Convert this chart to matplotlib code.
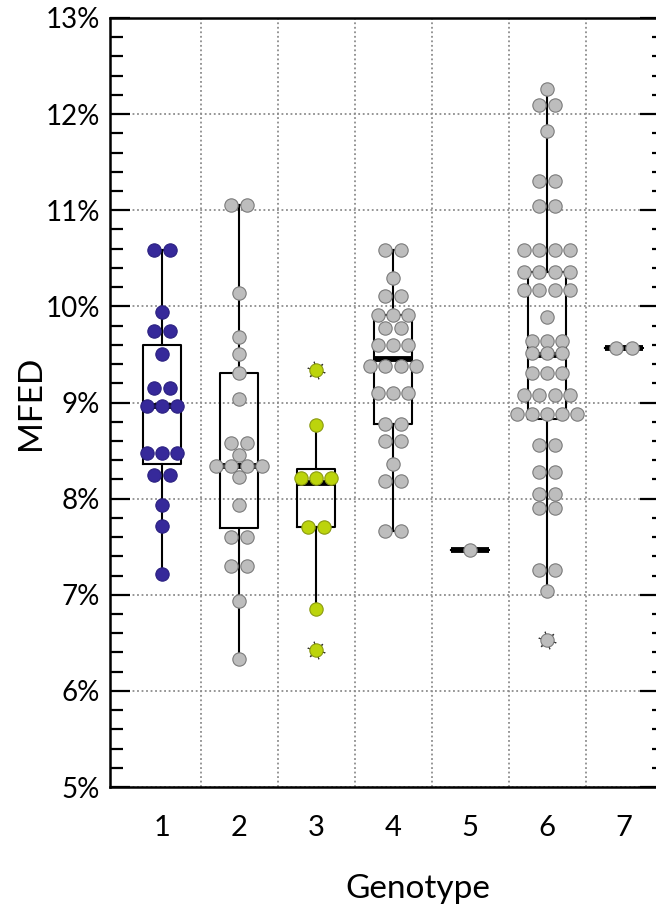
import numpy as np
import matplotlib
matplotlib.use("Agg")
import matplotlib.pyplot as plt
from matplotlib.ticker import MultipleLocator, PercentFormatter, NullFormatter

# MFED values (%) per genotype
genotypes = [1, 2, 3, 4, 5, 6, 7]

g1 = [10.59, 10.59, 9.94, 9.74, 9.74, 9.50, 9.15, 9.15, 8.96, 8.96, 8.96,
      8.47, 8.47, 8.47, 8.25, 8.25, 7.93, 7.72, 7.22]
g2 = [11.05, 11.05, 10.14, 9.68, 9.50, 9.31, 9.04, 8.58, 8.58, 8.45,
      8.34, 8.34, 8.34, 8.34, 8.22, 7.93, 7.60, 7.60, 7.30, 7.30, 6.94, 6.33]
g3 = [9.34, 8.77, 8.21, 8.21, 8.21, 7.71, 7.71, 6.85, 6.43]
g4 = [10.59, 10.59, 10.29, 10.11, 10.11, 9.91, 9.91, 9.91, 9.77, 9.77,
      9.60, 9.60, 9.60, 9.38, 9.38, 9.38, 9.38, 9.10, 9.10, 9.10,
      8.78, 8.78, 8.60, 8.60, 8.36, 8.18, 8.18, 7.66, 7.66]
g5 = [7.47]
g6 = [12.26, 12.09, 12.09, 11.82, 11.30, 11.30, 11.04, 11.04,
      10.59, 10.59, 10.59, 10.59, 10.36, 10.36, 10.36, 10.36,
      10.17, 10.17, 10.17, 10.17, 9.89, 9.64, 9.64, 9.64, 9.52, 9.52, 9.52,
      9.31, 9.31, 9.31, 9.08, 9.08, 9.08, 9.08, 8.88, 8.88, 8.88, 8.88, 8.88,
      8.56, 8.56, 8.28, 8.28, 8.05, 8.05, 7.90, 7.90, 7.26, 7.26, 7.04, 6.53]
g7 = [9.57, 9.57]

# outliers (drawn with spiked markers)
outliers = {3: [9.34, 6.43], 6: [6.53]}

# box statistics
box_q1 = [8.36, 7.69, 7.71, 8.78, 7.47, 8.83, 9.57]
box_med = [8.96, 8.34, 8.16, 9.45, 7.47, 9.49, 9.57]
box_q3 = [9.60, 9.31, 8.31, 9.91, 7.47, 10.36, 9.57]
whisk_lo = [7.22, 6.33, 6.85, 7.66, 7.47, 7.04, 9.57]
whisk_hi = [10.59, 11.05, 8.77, 10.59, 7.47, 12.26, 9.57]

# styles
BLUE = "#36299a"
GREEN = "#bcd40c"
GRAY = "#bdbdbd"
point_colors = [BLUE, GRAY, GREEN, GRAY, GRAY, GRAY, GRAY]
edge_colors = ["#2a2080", "#7a7a7a", "#8a9a10", "#7a7a7a", "#7a7a7a", "#7a7a7a", "#7a7a7a"]
FONT = ["Lato", "DejaVu Sans"]
ROW_STEP = 0.195  # horizontal spacing between dots sharing one value


def swarm_offsets(values):
    """Spread equal values side by side, centred on the category."""
    xs = np.zeros(len(values))
    vals = np.array(values)
    for v in np.unique(vals):
        idx = np.where(vals == v)[0]
        n = len(idx)
        xs[idx] = (np.arange(n) - (n - 1) / 2) * ROW_STEP
    return xs


def main():
    plt.rcParams["font.family"] = FONT
    fig = plt.figure(figsize=(6.56, 9.06), dpi=100)
    ax_rect = [110 / 656, 119 / 906, 1 - 110 / 656, 769 / 906]
    ax = fig.add_axes(ax_rect)

    data = [g1, g2, g3, g4, g5, g6, g7]

    stats = []
    for i, g in enumerate(genotypes):
        stats.append({
            "med": box_med[i], "q1": box_q1[i], "q3": box_q3[i],
            "whislo": whisk_lo[i], "whishi": whisk_hi[i], "fliers": [],
        })
    ax.bxp(stats, positions=genotypes, widths=0.5, capwidths=0.1,
           boxprops=dict(color="black", linewidth=1.5),
           whiskerprops=dict(color="black", linewidth=1.5),
           capprops=dict(color="black", linewidth=1.5),
           medianprops=dict(color="black", linewidth=4.2, solid_capstyle="butt"),
           zorder=2)

    for g, vals, fc, ec in zip(genotypes, data, point_colors, edge_colors):
        xs = g + swarm_offsets(vals)
        ax.plot(xs, vals, linestyle="none", marker="o", markersize=9.6,
                markerfacecolor=fc, markeredgecolor=ec, markeredgewidth=0.8,
                zorder=4)
        if g in outliers:
            ov = outliers[g]
            ax.plot([g] * len(ov), ov, linestyle="none", marker=(6, 2, 15),
                    markersize=13, markeredgecolor="#333333",
                    markeredgewidth=0.8, zorder=3)

    ax.set_xlim(1 - 52 / 77, 1 + 494 / 77)
    ax.set_ylim(5, 13)
    ax.set_xticks(genotypes)
    ax.set_xticklabels([str(g) for g in genotypes])
    ax.set_xticks(np.arange(1.5, 7, 1), minor=True)
    ax.yaxis.set_major_locator(MultipleLocator(1))
    ax.yaxis.set_minor_locator(MultipleLocator(0.2))
    ax.yaxis.set_major_formatter(PercentFormatter(xmax=100, decimals=0))

    ax.grid(True, which="major", axis="y", linestyle=(0, (1, 1.5)),
            color="#8c8c8c", linewidth=1.3, zorder=0)
    ax.grid(True, which="minor", axis="x", linestyle=(0, (1, 1.5)),
            color="#8c8c8c", linewidth=1.3, zorder=0)
    ax.set_axisbelow(True)

    ax.tick_params(axis="y", which="major", direction="in", length=14.5,
                   width=1.6, labelsize=20, pad=7)
    ax.tick_params(axis="y", which="minor", direction="in", length=9.5,
                   width=1.6)
    ax.tick_params(axis="x", which="both", length=0, labelsize=21, pad=20)

    for side in ["left", "bottom", "top"]:
        ax.spines[side].set_linewidth(1.8)
    ax.spines["right"].set_visible(False)

    ax.set_ylabel("MFED", fontsize=24)
    ax.yaxis.set_label_coords(-0.118, 0.5)
    ax.set_xlabel("Genotype", fontsize=24)
    ax.xaxis.set_label_coords(0.564, -0.113)

    # ticks of the neighbouring panel peeking in at the right edge
    nb = fig.add_axes([660 / 656, ax_rect[1], 0.3, ax_rect[3]])
    nb.set_ylim(5, 13)
    nb.yaxis.set_major_locator(MultipleLocator(1))
    nb.yaxis.set_minor_locator(MultipleLocator(0.2))
    nb.yaxis.set_major_formatter(NullFormatter())
    nb.tick_params(axis="y", which="major", direction="out", length=14.5, width=1.6)
    nb.tick_params(axis="y", which="minor", direction="out", length=6, width=1.6)
    nb.set_xticks([])
    for side in nb.spines:
        nb.spines[side].set_visible(False)

    fig.savefig("out.png", dpi=100)
    plt.close(fig)


if __name__ == "__main__":
    main()
